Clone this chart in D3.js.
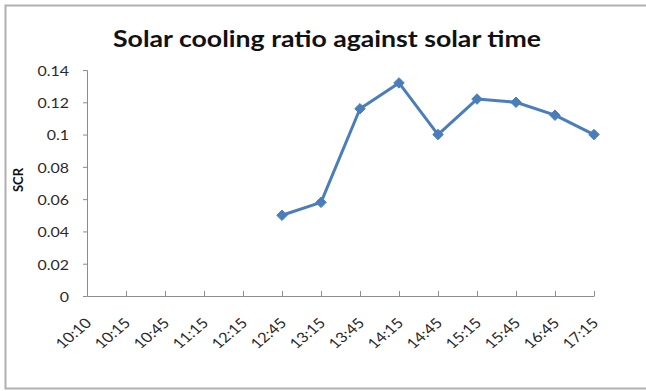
<!DOCTYPE html>
<html>
<head>
<meta charset="utf-8">
<script src="https://cdn.jsdelivr.net/npm/d3@7"></script>
<style>
  html, body { margin: 0; padding: 0; background: #fff; }
  svg { display: block; font-family: Lato, "Open Sans", sans-serif; }
</style>
</head>
<body>
<svg id="chart" width="646" height="391"></svg>
<script>
// Solar time categories and the solar cooling ratio (SCR) at each one
const times = ["10:10", "10:15", "10:45", "11:15", "12:15", "12:45", "13:15",
               "13:45", "14:15", "14:45", "15:15", "15:45", "16:45", "17:15"];
const scr = [null, null, null, null, null, 0.05, 0.058,
             0.116, 0.132, 0.1, 0.122, 0.12, 0.112, 0.1];
const yTicks = [0, 0.02, 0.04, 0.06, 0.08, 0.1, 0.12, 0.14];
const yTickLabels = ["0", "0.02", "0.04", "0.06", "0.08", "0.1", "0.12", "0.14"];

const svg = d3.select("#chart");
const W = 646, H = 391;
const m = { left: 87, right: 52, top: 70, bottom: 95 };
const stretch = 1.18;   // wide lettering used throughout the chart

// chart frame
svg.append("rect")
  .attr("x", 5.5).attr("y", 5.5)
  .attr("width", W + 10).attr("height", 383)
  .attr("fill", "#fff").attr("stroke", "#b0b0b0").attr("stroke-width", 2);

const x = d3.scalePoint().domain(times).range([m.left, W - m.right]).padding(0);
const y = d3.scaleLinear().domain([0, 0.14]).range([H - m.bottom, m.top]);

// title
svg.append("text")
  .attr("transform", `translate(327,47) scale(${stretch},1)`)
  .attr("text-anchor", "middle")
  .attr("font-size", 22.6).attr("font-weight", "bold").attr("fill", "#111")
  .text("Solar cooling ratio against solar time");

// y axis
const yAxis = svg.append("g")
  .attr("transform", `translate(${m.left},0)`)
  .call(d3.axisLeft(y).tickValues(yTicks)
    .tickFormat((d, i) => yTickLabels[i]).tickSize(4));
yAxis.select(".domain").attr("stroke", "#8c8c8c");
yAxis.selectAll(".tick line").attr("stroke", "#8c8c8c");
yAxis.selectAll(".tick text")
  .attr("x", 0)
  .attr("transform", `translate(-18,1) scale(${stretch},1)`)
  .attr("font-size", 13.5).attr("fill", "#2a2a2a").attr("font-family", "Lato, sans-serif");

// x axis, ticks pointing into the plot
const xAxis = svg.append("g")
  .attr("transform", `translate(0,${y(0)})`)
  .call(d3.axisBottom(x).tickSizeInner(-5).tickSizeOuter(0));
xAxis.select(".domain").attr("stroke", "#8c8c8c");
xAxis.selectAll(".tick line").attr("stroke", "#8c8c8c");
xAxis.selectAll(".tick text")
  .attr("font-size", 14).attr("fill", "#2a2a2a").attr("font-family", "Lato, sans-serif")
  .attr("text-anchor", "end")
  .attr("x", 0).attr("y", 0).attr("dy", 0)
  .attr("transform", `translate(5,28) scale(${stretch},1) rotate(-45)`);

// y axis title
svg.append("text")
  .attr("transform", `translate(23,180) rotate(-90)`)
  .attr("text-anchor", "middle")
  .attr("font-size", 13).attr("font-weight", "bold").attr("fill", "#111")
  .text("SCR");

// series line and diamond markers
const pts = times.map((t, i) => ({ t, v: scr[i] })).filter(d => d.v !== null);
const color = "#4a7ebb";
svg.append("path")
  .datum(pts)
  .attr("fill", "none").attr("stroke", color).attr("stroke-width", 3)
  .attr("stroke-linejoin", "round")
  .attr("d", d3.line().x(d => x(d.t)).y(d => y(d.v)));

svg.append("g").selectAll("path")
  .data(pts).join("path")
  .attr("transform", d => `translate(${x(d.t)},${y(d.v)})`)
  .attr("d", d3.symbol().type(d3.symbolDiamond2).size(70))
  .attr("fill", color).attr("stroke", color).attr("stroke-width", 1);
</script>
</body>
</html>
